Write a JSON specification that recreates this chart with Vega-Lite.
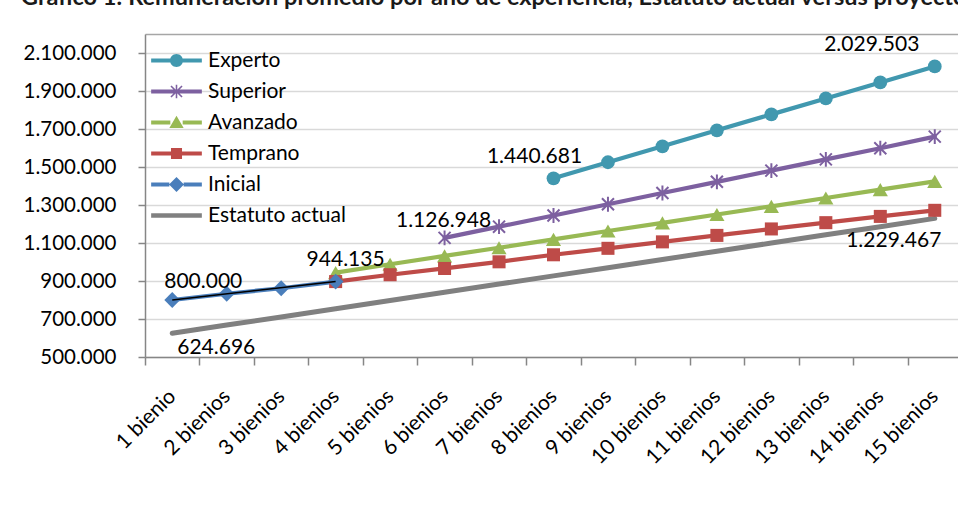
{
  "$schema": "https://vega.github.io/schema/vega-lite/v6.json",
  "width": 813,
  "height": 323,
  "autosize": "none",
  "padding": {"left": 145, "top": 34, "right": 0, "bottom": 161},
  "background": "white",
  "title": {
    "text": "Gráfico 1: Remuneración promedio por año de experiencia, Estatuto actual versus proyecto",
    "anchor": "start", "frame": "bounds", "orient": "top", "offset": 19, "baseline": "alphabetic", "dy": 14,
    "font": "Lato", "fontSize": 23.5, "fontWeight": "bold", "color": "#1a1a1a", "dx": -2
  },
  "config": {
    "locale": {"number": {"decimal": ",", "thousands": ".", "grouping": [3], "currency": ["$", ""]}},
    "view": {"stroke": null},
    "font": "Lato"
  },
  "datasets": {
    "d": [
      {"serie": "Estatuto actual", "bienio": "1 bienio", "valor": 624696},
      {"serie": "Estatuto actual", "bienio": "2 bienios", "valor": 668000},
      {"serie": "Estatuto actual", "bienio": "3 bienios", "valor": 711000},
      {"serie": "Estatuto actual", "bienio": "4 bienios", "valor": 754000},
      {"serie": "Estatuto actual", "bienio": "5 bienios", "valor": 797000},
      {"serie": "Estatuto actual", "bienio": "6 bienios", "valor": 841000},
      {"serie": "Estatuto actual", "bienio": "7 bienios", "valor": 884000},
      {"serie": "Estatuto actual", "bienio": "8 bienios", "valor": 927000},
      {"serie": "Estatuto actual", "bienio": "9 bienios", "valor": 970000},
      {"serie": "Estatuto actual", "bienio": "10 bienios", "valor": 1013000},
      {"serie": "Estatuto actual", "bienio": "11 bienios", "valor": 1057000},
      {"serie": "Estatuto actual", "bienio": "12 bienios", "valor": 1100000},
      {"serie": "Estatuto actual", "bienio": "13 bienios", "valor": 1143000},
      {"serie": "Estatuto actual", "bienio": "14 bienios", "valor": 1186000},
      {"serie": "Estatuto actual", "bienio": "15 bienios", "valor": 1229467},
      {"serie": "Experto", "bienio": "8 bienios", "valor": 1440681},
      {"serie": "Experto", "bienio": "9 bienios", "valor": 1525000},
      {"serie": "Experto", "bienio": "10 bienios", "valor": 1609000},
      {"serie": "Experto", "bienio": "11 bienios", "valor": 1693000},
      {"serie": "Experto", "bienio": "12 bienios", "valor": 1777000},
      {"serie": "Experto", "bienio": "13 bienios", "valor": 1861000},
      {"serie": "Experto", "bienio": "14 bienios", "valor": 1945000},
      {"serie": "Experto", "bienio": "15 bienios", "valor": 2029503},
      {"serie": "Superior", "bienio": "6 bienios", "valor": 1126948},
      {"serie": "Superior", "bienio": "7 bienios", "valor": 1186000},
      {"serie": "Superior", "bienio": "8 bienios", "valor": 1245000},
      {"serie": "Superior", "bienio": "9 bienios", "valor": 1304000},
      {"serie": "Superior", "bienio": "10 bienios", "valor": 1363000},
      {"serie": "Superior", "bienio": "11 bienios", "valor": 1422000},
      {"serie": "Superior", "bienio": "12 bienios", "valor": 1481000},
      {"serie": "Superior", "bienio": "13 bienios", "valor": 1540000},
      {"serie": "Superior", "bienio": "14 bienios", "valor": 1599000},
      {"serie": "Superior", "bienio": "15 bienios", "valor": 1660000},
      {"serie": "Avanzado", "bienio": "4 bienios", "valor": 944135},
      {"serie": "Avanzado", "bienio": "5 bienios", "valor": 988000},
      {"serie": "Avanzado", "bienio": "6 bienios", "valor": 1032000},
      {"serie": "Avanzado", "bienio": "7 bienios", "valor": 1075000},
      {"serie": "Avanzado", "bienio": "8 bienios", "valor": 1119000},
      {"serie": "Avanzado", "bienio": "9 bienios", "valor": 1163000},
      {"serie": "Avanzado", "bienio": "10 bienios", "valor": 1206000},
      {"serie": "Avanzado", "bienio": "11 bienios", "valor": 1250000},
      {"serie": "Avanzado", "bienio": "12 bienios", "valor": 1293000},
      {"serie": "Avanzado", "bienio": "13 bienios", "valor": 1337000},
      {"serie": "Avanzado", "bienio": "14 bienios", "valor": 1381000},
      {"serie": "Avanzado", "bienio": "15 bienios", "valor": 1424000},
      {"serie": "Temprano", "bienio": "4 bienios", "valor": 897000},
      {"serie": "Temprano", "bienio": "5 bienios", "valor": 933000},
      {"serie": "Temprano", "bienio": "6 bienios", "valor": 966000},
      {"serie": "Temprano", "bienio": "7 bienios", "valor": 1001000},
      {"serie": "Temprano", "bienio": "8 bienios", "valor": 1038000},
      {"serie": "Temprano", "bienio": "9 bienios", "valor": 1072000},
      {"serie": "Temprano", "bienio": "10 bienios", "valor": 1106000},
      {"serie": "Temprano", "bienio": "11 bienios", "valor": 1140000},
      {"serie": "Temprano", "bienio": "12 bienios", "valor": 1174000},
      {"serie": "Temprano", "bienio": "13 bienios", "valor": 1207000},
      {"serie": "Temprano", "bienio": "14 bienios", "valor": 1240000},
      {"serie": "Temprano", "bienio": "15 bienios", "valor": 1272000},
      {"serie": "Inicial", "bienio": "1 bienio", "valor": 800000},
      {"serie": "Inicial", "bienio": "2 bienios", "valor": 833000},
      {"serie": "Inicial", "bienio": "3 bienios", "valor": 862000},
      {"serie": "Inicial", "bienio": "4 bienios", "valor": 897000}
    ]
  },
  "data": {"name": "d"},
  "encoding": {
    "x": {
      "field": "bienio", "type": "nominal",
      "scale": {
        "domain": ["1 bienio", "2 bienios", "3 bienios", "4 bienios", "5 bienios", "6 bienios", "7 bienios", "8 bienios", "9 bienios", "10 bienios", "11 bienios", "12 bienios", "13 bienios", "14 bienios", "15 bienios"],
        "range": [0, 817], "paddingInner": 0, "paddingOuter": 0
      },
      "axis": {
        "title": null, "tickBand": "extent", "labelAngle": -45, "labelAlign": "right", "labelBaseline": "middle",
        "labelFont": "Lato", "labelFontSize": 21, "labelColor": "black", "labelPadding": 28,
        "tickSize": 8, "tickColor": "#868686", "tickWidth": 1.5, "domainColor": "#868686", "domainWidth": 1.5,
        "grid": false, "labelOverlap": false, "labelBound": false
      }
    },
    "y": {
      "field": "valor", "type": "quantitative",
      "scale": {"domain": [500000, 2200000], "nice": false, "zero": false},
      "axis": {
        "title": null,
        "values": [500000, 700000, 900000, 1100000, 1300000, 1500000, 1700000, 1900000, 2100000, 2200000],
        "format": ",d",
        "labelExpr": "datum.value == 2200000 ? '' : datum.label",
        "grid": true,
        "gridColor": {"condition": {"test": "datum.value == 2200000", "value": "#A6A6A6"}, "value": "#D9D9D9"},
        "gridWidth": 1.5,
        "tickColor": {"condition": {"test": "datum.value == 2200000", "value": "transparent"}, "value": "#868686"},
        "tickSize": 7, "tickWidth": 1.5, "domainColor": "#868686", "domainWidth": 1.5,
        "labelFont": "Lato", "labelFontSize": 20.5, "labelColor": "black", "labelPadding": 22
      }
    }
  },
  "layer": [
    {
      "transform": [{"filter": "datum.serie == 'Estatuto actual'"}],
      "mark": {"type": "line", "strokeWidth": 5, "strokeCap": "round", "strokeJoin": "round", "color": "#808080"},
      "encoding": {}
    },
    {
      "transform": [{"filter": "datum.serie == 'Experto'"}],
      "mark": {"type": "line", "strokeWidth": 4.2, "strokeCap": "round", "strokeJoin": "round", "color": "#4198AF"},
      "encoding": {}
    },
    {
      "transform": [{"filter": "datum.serie == 'Superior'"}],
      "mark": {"type": "line", "strokeWidth": 4.2, "strokeCap": "round", "strokeJoin": "round", "color": "#7D60A0"},
      "encoding": {}
    },
    {
      "transform": [{"filter": "datum.serie == 'Avanzado'"}],
      "mark": {"type": "line", "strokeWidth": 4.2, "strokeCap": "round", "strokeJoin": "round", "color": "#98B954"},
      "encoding": {}
    },
    {
      "transform": [{"filter": "datum.serie == 'Temprano'"}],
      "mark": {"type": "line", "strokeWidth": 4.2, "strokeCap": "round", "strokeJoin": "round", "color": "#BE4B48"},
      "encoding": {}
    },
    {
      "transform": [{"filter": "datum.serie == 'Inicial'"}],
      "mark": {"type": "line", "strokeWidth": 4.2, "strokeCap": "round", "strokeJoin": "round", "color": "#4A7EBB"},
      "encoding": {}
    },
    {
      "transform": [{"filter": "datum.serie == 'Experto'"}],
      "mark": {"type": "point", "shape": "circle", "filled": true, "opacity": 1, "size": 190, "color": "#4198AF"},
      "encoding": {}
    },
    {
      "transform": [{"filter": "datum.serie == 'Superior'"}],
      "mark": {"type": "point", "shape": "M0,-1.05V1.05M-0.85,-0.85L0.85,0.85M-0.85,0.85L0.85,-0.85", "filled": false, "opacity": 1, "size": 200, "strokeWidth": 2, "color": "#7D60A0"},
      "encoding": {}
    },
    {
      "transform": [{"filter": "datum.serie == 'Avanzado'"}],
      "mark": {"type": "point", "shape": "triangle-up", "filled": true, "opacity": 1, "size": 230, "color": "#98B954"},
      "encoding": {}
    },
    {
      "transform": [{"filter": "datum.serie == 'Temprano'"}],
      "mark": {"type": "point", "shape": "square", "filled": true, "opacity": 1, "size": 170, "color": "#BE4B48"},
      "encoding": {}
    },
    {
      "transform": [{"filter": "datum.serie == 'Inicial'"}],
      "mark": {"type": "point", "shape": "diamond", "filled": true, "opacity": 1, "size": 250, "color": "#4A7EBB"},
      "encoding": {}
    },
    {
      "transform": [{"filter": "datum.serie == 'Inicial' && (datum.bienio == '1 bienio' || datum.bienio == '4 bienios')"}],
      "mark": {"type": "line", "strokeWidth": 1.6, "color": "black"},
      "encoding": {}
    },
    {
      "transform": [{"filter": "datum.serie == 'Inicial' && datum.bienio == '1 bienio'"}],
      "mark": {"type": "text", "dx": 31, "dy": -18, "fontSize": 21, "font": "Lato", "color": "black", "align": "center", "baseline": "middle"},
      "encoding": {"text": {"field": "valor", "type": "quantitative", "format": ",d"}}
    },
    {
      "transform": [{"filter": "datum.serie == 'Estatuto actual' && datum.bienio == '1 bienio'"}],
      "mark": {"type": "text", "dx": 44, "dy": 15, "fontSize": 21, "font": "Lato", "color": "black", "align": "center", "baseline": "middle"},
      "encoding": {"text": {"field": "valor", "type": "quantitative", "format": ",d"}}
    },
    {
      "transform": [{"filter": "datum.serie == 'Avanzado' && datum.bienio == '4 bienios'"}],
      "mark": {"type": "text", "dx": 10, "dy": -13, "fontSize": 21, "font": "Lato", "color": "black", "align": "center", "baseline": "middle"},
      "encoding": {"text": {"field": "valor", "type": "quantitative", "format": ",d"}}
    },
    {
      "transform": [{"filter": "datum.serie == 'Superior' && datum.bienio == '6 bienios'"}],
      "mark": {"type": "text", "dx": -1, "dy": -17, "fontSize": 21, "font": "Lato", "color": "black", "align": "center", "baseline": "middle"},
      "encoding": {"text": {"field": "valor", "type": "quantitative", "format": ",d"}}
    },
    {
      "transform": [{"filter": "datum.serie == 'Experto' && datum.bienio == '8 bienios'"}],
      "mark": {"type": "text", "dx": -19, "dy": -21, "fontSize": 21, "font": "Lato", "color": "black", "align": "center", "baseline": "middle"},
      "encoding": {"text": {"field": "valor", "type": "quantitative", "format": ",d"}}
    },
    {
      "transform": [{"filter": "datum.serie == 'Experto' && datum.bienio == '15 bienios'"}],
      "mark": {"type": "text", "dx": -63, "dy": -21, "fontSize": 21, "font": "Lato", "color": "black", "align": "center", "baseline": "middle"},
      "encoding": {"text": {"field": "valor", "type": "quantitative", "format": ",d"}}
    },
    {
      "transform": [{"filter": "datum.serie == 'Estatuto actual' && datum.bienio == '15 bienios'"}],
      "mark": {"type": "text", "dx": -41, "dy": 23, "fontSize": 21, "font": "Lato", "color": "black", "align": "center", "baseline": "middle"},
      "encoding": {"text": {"field": "valor", "type": "quantitative", "format": ",d"}}
    },
    {
      "mark": {"type": "point", "filled": true, "opacity": 0},
      "encoding": {
        "color": {"field": "serie", "type": "nominal",
          "scale": {"domain": ["Experto", "Superior", "Avanzado", "Temprano", "Inicial", "Estatuto actual"],
                    "range": ["#4198AF", "#7D60A0", "#98B954", "#BE4B48", "#4A7EBB", "#808080"]},
          "legend": {"title": null, "orient": "none", "legendX": 21, "legendY": 16, "symbolSize": 169, "symbolOpacity": 1, "symbolStrokeWidth": 0,
                     "labelFont": "Lato", "labelFontSize": 21, "labelColor": "black", "rowPadding": 9, "labelOffset": 21, "padding": 0, "labelLimit": 300}},
        "shape": {"field": "serie", "type": "nominal",
          "scale": {"domain": ["Experto", "Superior", "Avanzado", "Temprano", "Inicial", "Estatuto actual"],
                    "range": [
                      "M-3.9,-0.3H-0.95V0.3H-3.9ZM0.95,-0.3H3.9V0.3H0.95ZM1,0A1,1 0 1,1 -1,0A1,1 0 1,1 1,0Z",
                      "M-3.9,-0.3H3.9V0.3H-3.9ZM-0.12,-1.05H0.12V1.05H-0.12ZM-0.765,-0.935L0.935,0.765L0.765,0.935L-0.935,-0.765ZM-0.935,0.765L0.765,-0.935L0.935,-0.765L-0.765,0.935Z",
                      "M-3.9,-0.3H-0.95V0.3H-3.9ZM0.95,-0.3H3.9V0.3H0.95ZM0,-1.05L1.1,0.85H-1.1Z",
                      "M-3.9,-0.3H-0.85V0.3H-3.9ZM0.85,-0.3H3.9V0.3H0.85ZM-0.85,-0.85H0.85V0.85H-0.85Z",
                      "M-3.9,-0.3H-1.1V0.3H-3.9ZM1.1,-0.3H3.9V0.3H1.1ZM0,-1.15L1.15,0L0,1.15L-1.15,0Z",
                      "M-3.9,-0.36H3.9V0.36H-3.9Z"
                    ]},
          "legend": {"title": null, "orient": "none", "legendX": 21, "legendY": 16, "symbolSize": 169, "symbolOpacity": 1, "symbolStrokeWidth": 0,
                     "labelFont": "Lato", "labelFontSize": 21, "labelColor": "black", "rowPadding": 9, "labelOffset": 21, "padding": 0, "labelLimit": 300}}
      }
    }
  ]
}
